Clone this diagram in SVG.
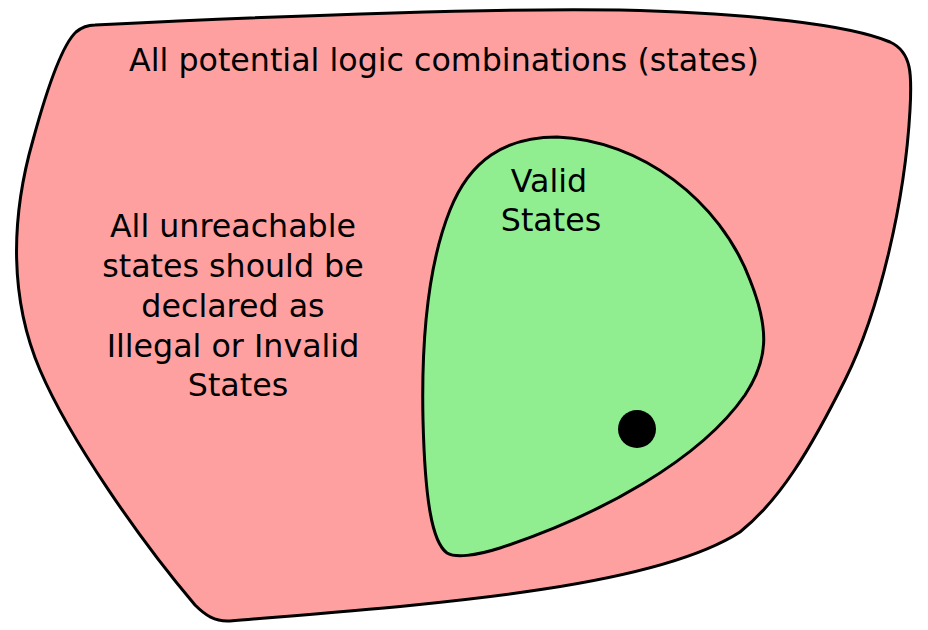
<svg xmlns="http://www.w3.org/2000/svg" width="928" height="630" viewBox="0 0 928 630">
<style>
.shape{stroke:#000;stroke-width:3;stroke-linejoin:round}
.lbl{font-family:"DejaVu Sans",sans-serif;font-size:31.7px;fill:#000;text-anchor:middle}
</style>
<rect width="928" height="630" fill="#fff"/>
<g id="all-states">
<path class="shape" fill="#ffa0a0" d="M 95,25 C 300,15 500,8 620,10 C 750,13 850,25 890,42 C 912,52 912,75 910,110 C 905,200 880,310 845,380 C 810,450 780,500 740,532 C 650,590 420,605 230,621 C 215,622 205,615 195,605 C 140,540 70,440 40,370 C 10,300 10,220 33,140 C 48,85 62,45 76,32 C 82,27 88,25 95,25 Z"/>
<text class="lbl" x="444" y="71">All potential logic combinations (states)</text>
<text class="lbl" x="238">
<tspan x="238" y="237">All unreachable</tspan>
<tspan x="238" y="277">states should be</tspan>
<tspan x="238" y="317">declared as</tspan>
<tspan x="238" y="357">Illegal or Invalid</tspan>
<tspan x="238" y="396">States</tspan>
</text>
</g>
<g id="valid-states">
<path class="shape" fill="#90ee90" d="M 557,137 C 640,140 720,200 750,280 C 770,330 768,360 745,395 C 700,460 600,515 500,548 C 475,556 455,558 447,553 C 432,542 425,500 423,420 C 421,330 430,260 450,210 C 470,160 505,137 557,137 Z"/>
<text class="lbl">
<tspan x="554" y="192">Valid</tspan>
<tspan x="551" y="231">States</tspan>
</text>
</g>
<g id="state-dot">
<circle cx="637" cy="429" r="19" fill="#000"/>
</g>
<g id="connectors"/>
</svg>
